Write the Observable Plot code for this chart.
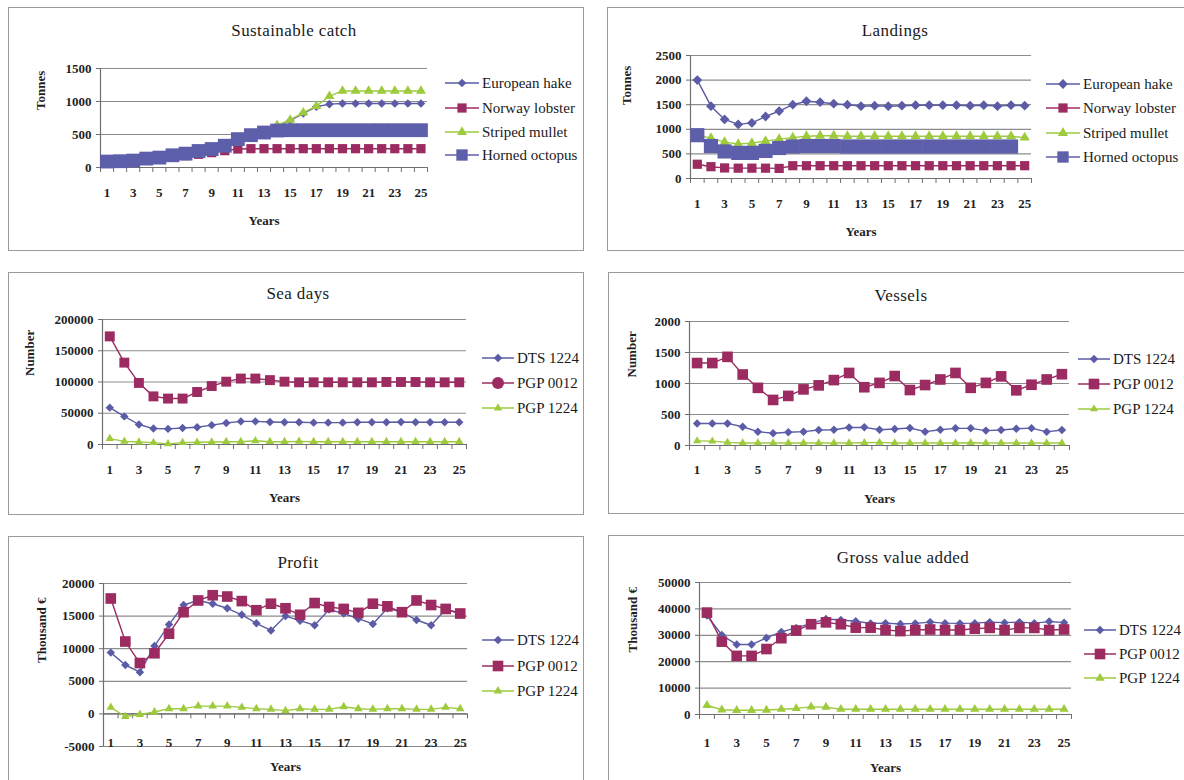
<!DOCTYPE html>
<html><head><meta charset="utf-8">
<script src="https://cdn.jsdelivr.net/npm/d3@7"></script>
<script src="https://cdn.jsdelivr.net/npm/@observablehq/plot@0.6"></script>
<style>
html,body{margin:0;padding:0;background:#fff;overflow:hidden;width:1184px;height:780px;}
#page{position:relative;width:1184px;height:780px;overflow:hidden;font-family:'Liberation Serif','DejaVu Serif',serif;color:#1a1a1a;}
.box{position:absolute;border:1.5px solid #9a9a9a;box-sizing:border-box;}
.title{position:absolute;transform:translate(-50%,-50%);font-family:'Liberation Serif','DejaVu Serif',serif;font-size:17px;white-space:nowrap;letter-spacing:0.4px;}
.plot{position:absolute;}
.lrow{position:absolute;display:flex;align-items:center;white-space:nowrap;transform:translateY(-50%);font-family:'Liberation Serif','DejaVu Serif',serif;font-size:15px;}
</style></head><body><div id="page"></div>
<script>
// ---------- data ----------
const years = d3.range(1, 26);
const xTickYears = [1,3,5,7,9,11,13,15,17,19,21,23,25];
const catBounds = d3.range(0.5, 26, 1);

// Sustainable catch (Tonnes)
const catchHake    = [90,95,105,135,150,185,210,250,280,330,420,480,540,630,710,820,920,960,970,970,970,970,970,970,970];
const catchLobster = [90,95,105,125,140,160,180,200,225,255,280,285,285,285,285,285,285,285,285,285,285,285,285,285,285];
const catchMullet  = [90,95,105,135,150,185,210,250,280,330,420,480,550,640,720,830,930,1080,1160,1160,1160,1160,1160,1160,1160];
const catchOctopus = [90,95,105,135,150,185,210,250,280,330,430,490,530,560,565,565,565,565,565,565,565,565,565,565,565];

// Landings (Tonnes)
const landHake    = [2000,1470,1200,1100,1130,1260,1370,1500,1570,1550,1520,1500,1470,1480,1470,1480,1490,1490,1490,1490,1480,1490,1470,1490,1480];
const landLobster = [290,240,215,210,210,210,205,260,260,260,260,260,260,260,260,260,260,260,260,260,260,260,260,260,260];
const landMullet  = [880,820,740,700,720,760,800,830,860,870,870,860,860,860,860,860,860,860,860,860,860,860,860,860,830];
const landOctopus = [880,660,550,520,520,560,620,650,660,660,660,650,650,650,650,650,650,650,650,650,650,650,650,650,null];

// Sea days (Number)
const seaDTS1224 = [59000,45000,32000,25500,25000,26500,27500,31000,34500,37000,37000,36000,35500,35500,35000,35000,35000,35500,35500,35500,36000,35500,35500,35500,35500];
const seaPGP0012 = [173000,131000,98500,77000,73500,73500,84000,93500,100500,105500,105500,103000,100500,99500,99500,99500,99500,99500,99500,100000,100000,100000,99500,99500,99500];
const seaPGP1224 = [9500,5000,4000,3000,1000,3000,3500,4000,4500,4500,6000,4500,4500,5000,4500,4500,4500,4500,4500,4500,4500,4500,4500,4500,4500];

// Vessels (Number)
const vesDTS1224 = [356,356,356,303,223,197,213,223,250,255,290,293,255,266,282,223,255,277,277,240,250,270,280,220,250];
const vesPGP0012 = [1330,1330,1430,1145,930,735,800,905,970,1055,1170,940,1010,1120,895,975,1065,1170,930,1010,1115,890,980,1065,1150];
const vesPGP1224 = [75,70,50,40,40,40,40,40,40,40,40,45,50,40,40,40,40,40,45,40,40,40,40,40,40];

// Profit (Thousand €)
const profDTS1224 = [9400,7500,6400,10400,13700,16700,17400,16900,16200,15200,13900,12800,15000,14300,13600,16000,15400,14600,13800,16200,15600,14400,13600,16000,15400];
const profPGP0012 = [17700,11100,7800,9300,12300,15600,17400,18200,18000,17300,15900,16900,16200,15200,17000,16400,16100,15500,16900,16500,15600,17400,16700,16100,15400];
const profPGP1224 = [1000,-400,-100,300,800,800,1200,1200,1200,1000,800,700,500,800,700,700,1100,800,700,800,800,700,700,1000,800];

// Gross value added (Thousand €)
const gvaDTS1224 = [37500,30100,26500,26500,29000,31300,32800,34500,36200,35800,35300,34500,34600,34300,34500,35000,34600,34500,34600,35000,34800,35000,34600,35200,34800];
const gvaPGP0012 = [38600,27600,22200,22200,24800,28900,31800,34200,34900,34200,32900,32900,32000,31600,32000,32200,32000,32000,32500,32800,32000,32800,32800,32000,32200];
const gvaPGP1224 = [3500,1800,1600,1600,1700,2000,2300,2900,2800,2000,2000,2000,2000,2000,2000,2000,2000,2000,2000,2000,2000,2000,2000,2000,2000];

const ticksCatch = [0,500,1000,1500];
const ticksLand = [0,500,1000,1500,2000,2500];
const ticksSea = [0,50000,100000,150000,200000];
const ticksVes = [0,500,1000,1500,2000];
const ticksProf = [-5000,0,5000,10000,15000,20000];
const ticksGva = [0,10000,20000,30000,40000,50000];

// ---------- styles ----------
const BLUE = "#5b5ba6", RED = "#9b2b61", GREEN = "#9dcb3d", OCTO = "#5e5fab";
const GRID = "#8c8c8c", AXIS = "#6f6f6f";
const FONT = "'Liberation Serif','DejaVu Serif',serif";
const symMap = {diamond2: d3.symbolDiamond2, square: d3.symbolSquare, triangle: d3.symbolTriangle, circle: d3.symbolCircle};

const panels = [
  {title: "Sustainable catch", titleX: 294, titleY: 31, ylabel: "Tonnes", ylabelX: 40, ylabelDy: -8, xlabDy: 25,
   box: {l: 8, t: 7, r: 584, b: 251}, frame: {l: 100, r: 427, t: 68, b: 167},
   yDomain: [0, 1500], yTicks: ticksCatch,
   series: [
     {name: "European hake", values: catchHake, color: BLUE, symbol: "diamond2", r: 3.9},
     {name: "Norway lobster", values: catchLobster, color: RED, symbol: "square", r: 5.2},
     {name: "Striped mullet", values: catchMullet, color: GREEN, symbol: "triangle", r: 3.7},
     {name: "Horned octopus", values: catchOctopus, color: OCTO, symbol: "square", r: 7.8}],
   legend: {x: 445, line: 34, rows: [83, 108, 132, 155], syms: [null, null, null, null]}},
  {title: "Landings", titleX: 895, titleY: 31, ylabel: "Tonnes", ylabelX: 626, ylabelDy: -12, xlabDy: 25,
   box: {l: 607, t: 7, r: 1193, b: 251}, frame: {l: 690, r: 1031, t: 55, b: 178},
   yDomain: [0, 2500], yTicks: ticksLand,
   series: [
     {name: "European hake", values: landHake, color: BLUE, symbol: "diamond2", r: 4.4},
     {name: "Norway lobster", values: landLobster, color: RED, symbol: "square", r: 5.2},
     {name: "Striped mullet", values: landMullet, color: GREEN, symbol: "triangle", r: 3.8},
     {name: "Horned octopus", values: landOctopus, color: OCTO, symbol: "square", r: 8.0}],
   legend: {x: 1046, line: 34, rows: [84, 108, 133, 157], syms: [null, null, null, null]}},
  {title: "Sea days", titleX: 298, titleY: 294, ylabel: "Number", ylabelX: 29, ylabelDy: -6, xlabDy: 25,
   box: {l: 8, t: 272, r: 584, b: 515}, frame: {l: 102, r: 466, t: 319, b: 444},
   yDomain: [0, 200000], yTicks: ticksSea,
   series: [
     {name: "DTS 1224", values: seaDTS1224, color: BLUE, symbol: "diamond2", r: 3.8},
     {name: "PGP 0012", values: seaPGP0012, color: RED, symbol: "square", r: 5.6},
     {name: "PGP 1224", values: seaPGP1224, color: GREEN, symbol: "triangle", r: 3.1}],
   legend: {x: 482, line: 32, rows: [358, 383, 408], syms: [null, "circle", null]}},
  {title: "Vessels", titleX: 901, titleY: 296, ylabel: "Number", ylabelX: 631, ylabelDy: -6, xlabDy: 24,
   box: {l: 608, t: 272, r: 1193, b: 514}, frame: {l: 689, r: 1069, t: 321, b: 445},
   yDomain: [0, 2000], yTicks: ticksVes,
   series: [
     {name: "DTS 1224", values: vesDTS1224, color: BLUE, symbol: "diamond2", r: 3.8},
     {name: "PGP 0012", values: vesPGP0012, color: RED, symbol: "square", r: 6.0},
     {name: "PGP 1224", values: vesPGP1224, color: GREEN, symbol: "triangle", r: 3.0}],
   legend: {x: 1078, line: 32, rows: [359, 384, 409], syms: [null, null, null]}},
  {title: "Profit", titleX: 298, titleY: 563, ylabel: "Thousand €", ylabelX: 41, ylabelDy: -2, xlabDy: 29,
   box: {l: 8, t: 536, r: 584, b: 800}, frame: {l: 103, r: 467, t: 583, b: 746},
   yDomain: [-5000, 20000], yTicks: ticksProf,
   series: [
     {name: "DTS 1224", values: profDTS1224, color: BLUE, symbol: "diamond2", r: 3.8},
     {name: "PGP 0012", values: profPGP0012, color: RED, symbol: "square", r: 6.0},
     {name: "PGP 1224", values: profPGP1224, color: GREEN, symbol: "triangle", r: 3.2}],
   legend: {x: 482, line: 32, rows: [640, 666, 691], syms: [null, null, null]}},
  {title: "Gross value added", titleX: 903, titleY: 558, ylabel: "Thousand €", ylabelX: 632, ylabelDy: 4, xlabDy: 28,
   box: {l: 608, t: 535, r: 1193, b: 800}, frame: {l: 699, r: 1071, t: 582, b: 714},
   yDomain: [0, 50000], yTicks: ticksGva,
   series: [
     {name: "DTS 1224", values: gvaDTS1224, color: BLUE, symbol: "diamond2", r: 3.8},
     {name: "PGP 0012", values: gvaPGP0012, color: RED, symbol: "square", r: 6.0},
     {name: "PGP 1224", values: gvaPGP1224, color: GREEN, symbol: "triangle", r: 3.4}],
   legend: {x: 1084, line: 32, rows: [630, 654, 678], syms: [null, null, null]}}
];

const page = document.getElementById("page");

function drawPanel(p) {
  const box = document.createElement("div");
  box.className = "box";
  Object.assign(box.style, {left: p.box.l + "px", top: p.box.t + "px", width: (p.box.r - p.box.l) + "px", height: (p.box.b - p.box.t) + "px"});
  page.appendChild(box);

  const title = document.createElement("div");
  title.className = "title";
  title.textContent = p.title;
  Object.assign(title.style, {left: p.titleX + "px", top: p.titleY + "px"});
  page.appendChild(title);

  const svgTop = p.box.t + 38;
  const svgBottom = Math.min(p.box.b, 782);
  const H = svgBottom - svgTop;
  const W = p.frame.r - p.box.l + 8;

  const marks = [
    Plot.ruleY(p.yTicks, {stroke: GRID, strokeWidth: 1.2}),
    Plot.ruleX([0.5], {stroke: AXIS, strokeWidth: 1.2}),
    Plot.ruleY([0], {stroke: AXIS, strokeWidth: 1.2}),
    Plot.ruleX(catBounds, {x: d => d, y1: () => 0, y2: () => 0, insetBottom: -5, stroke: AXIS}),
    Plot.axisY({ticks: p.yTicks, tickSize: 4, tickPadding: 5, tickFormat: d => String(d), label: null,
      fontSize: 13, fontWeight: "bold", fontFamily: FONT, stroke: AXIS}),
    Plot.text(xTickYears, {x: d => d, y: () => 0, dy: p.xlabDy, text: d => String(d), fontSize: 13, fontWeight: "bold", fontFamily: FONT}),
    Plot.text(["Years"], {x: () => 13, y: () => 0, dy: 53, text: d => d, fontSize: 13, fontWeight: "bold", fontFamily: FONT}),
    Plot.text([p.ylabel], {frameAnchor: "left", dx: -(p.frame.l - p.ylabelX), dy: p.ylabelDy, rotate: -90,
      text: d => d, fontSize: 13, fontWeight: "bold", fontFamily: FONT})
  ];
  for (const s of p.series) {
    const rows = [];
    s.values.forEach((v, i) => { if (v != null) rows.push({year: years[i], value: v}); });
    marks.push(Plot.line(rows, {x: "year", y: "value", stroke: s.color, strokeWidth: 1.4}));
    marks.push(Plot.dot(rows, {x: "year", y: "value", symbol: s.symbol, r: s.r, fill: s.color, stroke: "none"}));
  }

  const chart = Plot.plot({
    width: W, height: H,
    marginLeft: p.frame.l - p.box.l, marginRight: 8,
    marginTop: p.frame.t - svgTop, marginBottom: svgTop + H - p.frame.b,
    x: {domain: [0.5, 25.5], axis: null},
    y: {domain: p.yDomain},
    style: {fontFamily: FONT, fontSize: "13px", color: "#1f1f1f", background: "transparent", overflow: "visible"},
    marks
  });
  chart.classList.add("plot");
  Object.assign(chart.style, {left: p.box.l + "px", top: svgTop + "px", position: "absolute"});
  page.appendChild(chart);

  // legend
  p.series.forEach((s, i) => {
    const row = document.createElement("div");
    row.className = "lrow";
    Object.assign(row.style, {left: p.legend.x + "px", top: p.legend.rows[i] + "px"});
    const L = p.legend.line;
    const symName = p.legend.syms[i] || s.symbol;
    const rr = symName === "circle" ? 6 : Math.min(s.r, 6.4);
    const sv = d3.create("svg").attr("width", L).attr("height", 18).style("overflow", "visible");
    sv.append("line").attr("x1", 0).attr("x2", L).attr("y1", 9).attr("y2", 9).attr("stroke", s.color).attr("stroke-width", 1.5);
    sv.append("path").attr("transform", `translate(${L / 2},9)`)
      .attr("d", d3.symbol(symMap[symName], Math.PI * rr * rr)()).attr("fill", s.color);
    row.appendChild(sv.node());
    const t = document.createElement("span");
    t.textContent = s.name;
    t.style.marginLeft = "3px";
    row.appendChild(t);
    page.appendChild(row);
  });
}

panels.forEach(drawPanel);
</script>
</body></html>
